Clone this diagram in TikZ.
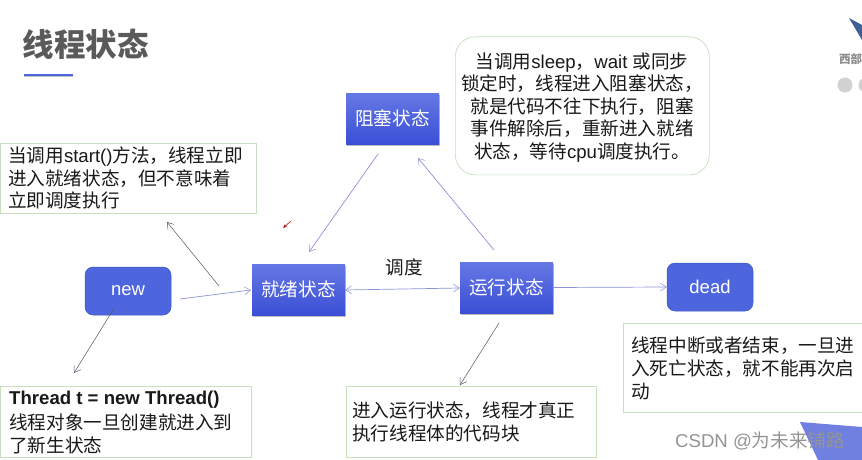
\documentclass[tikz,border=0pt]{standalone}
\usepackage{fontspec}
\setmainfont{Noto Sans CJK SC}
\newfontfamily\en{Liberation Sans}
\usetikzlibrary{shadows,arrows.meta}
\definecolor{notegreen}{HTML}{C6E0C0}
\definecolor{arrowblue}{HTML}{8C93D8}
\definecolor{arrowdark}{HTML}{55556A}
\definecolor{boxtop}{HTML}{6678E4}
\definecolor{boxbot}{HTML}{3A4FD6}
\definecolor{roundfill}{HTML}{4D66DD}
\definecolor{roundline}{HTML}{3F55BE}
\definecolor{titlegrey}{HTML}{5A5A5A}
\definecolor{cornerblue}{HTML}{6F80E0}
\definecolor{logoblue}{HTML}{3F5F95}
\tikzset{
  x=1pt,y=-1pt,
  statebox/.style={minimum width=#1,minimum height=51pt,inner sep=0pt,top color=boxtop,bottom color=boxbot,text=white,
    font=\fontsize{18.6}{22}\selectfont,drop shadow={shadow xshift=1pt,shadow yshift=-1.5pt,opacity=.45,fill=black!60}},
  endbox/.style={minimum width=86pt,minimum height=48pt,inner sep=0pt,rounded corners=8pt,fill=roundfill,draw=roundline,line width=.5pt,text=white,
    font=\en\fontsize{18.5}{22}\selectfont},
  notebox/.style={draw=notegreen,line width=.7pt,fill=white,inner sep=0pt},
  notetext/.style={inner sep=0pt,align=left,anchor=north west,text=black!90,font=\fontsize{18.6}{22.6}\selectfont},
  flow/.style={draw=arrowblue,line width=.7pt,-{Straight Barb[length=6pt,width=8pt,line width=.5pt]}},
  note arrow/.style={draw=arrowdark,line width=.5pt,-{Straight Barb[length=6pt,width=8pt,line width=.5pt]}},
}
\begin{document}
\begin{tikzpicture}
\useasboundingbox (0,0) rectangle (862,460);
\fill[white] (0,0) rectangle (862,460);
% corner decorations
\begin{scope}
\clip (0,0) rectangle (862,460);
\fill[logoblue] (849,18) -- (862,25) -- (862,40) -- cycle;
\node[inner sep=0pt,anchor=west,text=black!45,font=\bfseries\fontsize{11.5}{12}\selectfont] (logotext) at (839,59) {西部};
\fill[black!18] (845,85) circle (7.5);
\fill[black!18] (866,85) circle (7.5);
\fill[cornerblue] (800,422) -- (862,427) -- (862,460) -- (818,460) -- cycle;
\end{scope}
% title
\node[inner sep=0pt,anchor=west,text=titlegrey,font=\bfseries\fontsize{31.5}{33}\selectfont] (title) at (22.5,44) {线程状态};
\coordinate (ruleA) at (24,75);
\coordinate (ruleB) at (73,75);
\draw[black!25,line width=1.5pt] ([yshift=-1.5pt]ruleA) -- ([yshift=-1.5pt]ruleB);
\draw[roundfill,line width=1.6pt] (ruleA) -- (ruleB);
% notes
\node[notebox,minimum width=255pt,minimum height=70pt,anchor=north west] (noteStart) at (0.5,143) {};
\node[notetext] at (8,146.5) {当调用{\en start()}方法，线程立即\\进入就绪状态，但不意味着\\立即调度执行};
\node[notebox,rounded corners=20pt,minimum width=254pt,minimum height=138pt,anchor=north west,align=center,
  font=\fontsize{18.6}{22.6}\selectfont,text=black!90,text height=15pt] (noteBlock) at (455,36.5) {};
\node[inner sep=0pt,align=center,font=\fontsize{18.6}{22.6}\selectfont,text=black!90] (noteBlockText) at (582,107.5)
  {当调用{\en sleep}，{\en wait }或同步\\锁定时，线程进入阻塞状态，\\就是代码不往下执行，阻塞\\事件解除后，重新进入就绪\\状态，等待{\en cpu}调度执行。};
\node[notebox,minimum width=250pt,minimum height=71pt,anchor=north west] (noteNew) at (0.5,385.5) {};
\node[notetext] at (9,390.5) {{\en\bfseries Thread t = new Thread()}\\[3pt]线程对象一旦创建就进入到\\了新生状态};
\node[notebox,minimum width=250pt,minimum height=71pt,anchor=north west] (noteRun) at (345.5,385.5) {};
\node[notetext] at (352,402) {进入运行状态，线程才真正\\执行线程体的代码块};
\node[notebox,minimum width=245pt,minimum height=89pt,anchor=north west] (noteDead) at (623,323) {};
\node[notetext] at (631,337) {线程中断或者结束，一旦进\\入死亡状态，就不能再次启\\动};
% states
\node[endbox] (new) at (128,291) {new};
\node[statebox=93pt] (ready) at (298.5,289.5) {就绪状态};
\node[statebox=93pt] (running) at (506.5,287.5) {运行状态};
\node[statebox=93pt] (blocked) at (392.5,118.5) {阻塞状态};
\node[endbox] (dead) at (710,287) {dead};
\node[inner sep=0pt,text=black!90,font=\fontsize{18.6}{22}\selectfont] (sched) at (404,267) {调度};
% free ends
\coordinate (newOut) at (180,299);
\coordinate (readyIn) at (251,290);
\coordinate (startA) at (219,286);
\coordinate (startB) at (167,222);
\coordinate (newA) at (113,310);
\coordinate (newB) at (74,373);
\coordinate (blockA) at (378,154);
\coordinate (blockB) at (309,252);
\coordinate (runA) at (494,250);
\coordinate (runB) at (418,158);
\coordinate (runC) at (499,323);
\coordinate (runD) at (460,385);
\coordinate (markA) at (291,221);
\coordinate (markB) at (283,228);
% connectors
\draw[flow] (newOut) -- (readyIn);
\draw[note arrow] (startA) -- (startB);
\draw[note arrow] (newA) -- (newB);
\draw[flow] (blockA) -- (blockB);
\draw[flow] (runA) -- (runB);
\draw[note arrow] (runC) -- (runD);
\draw[flow,{Straight Barb[length=6pt,width=8pt,line width=.5pt]}-{Straight Barb[length=6pt,width=8pt,line width=.5pt]}] ([yshift=-.5pt]ready.east) -- ([yshift=-.5pt]running.west);
\draw[flow] (running.east) -- (dead.west);
\draw[red!75!black,line width=.6pt,-{Stealth[length=4pt,width=3pt]}] (markA) -- (markB);
% watermark
\node[inner sep=0pt,anchor=west,text=black!42,font=\fontsize{18.6}{20}\selectfont] (mark) at (675,441) {{\en CSDN @}为未来铺路};
\end{tikzpicture}
\end{document}
